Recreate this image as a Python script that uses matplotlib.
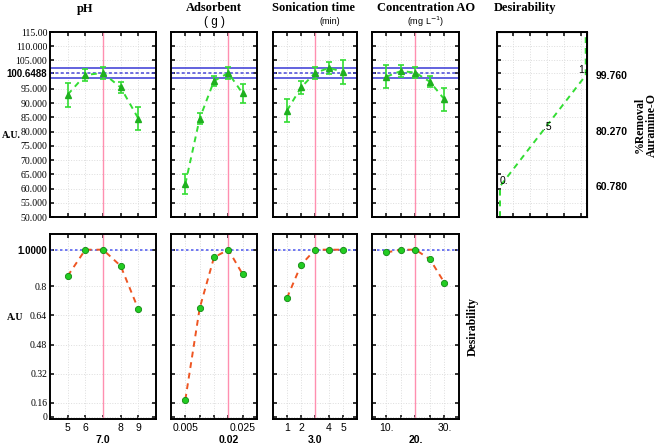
import matplotlib
matplotlib.use('Agg')
import matplotlib.pyplot as plt
import matplotlib.transforms as mtransforms

# factor levels and responses
ph_x = [5, 6, 7, 8, 9]
ph_y = [93.0, 99.9, 100.6, 95.5, 84.6]
ph_err = [4.2, 2.0, 2.0, 2.0, 4.0]
ph_d = [0.856, 1.0, 1.0, 0.911, 0.674]

ads_x = [0.005, 0.01, 0.015, 0.02, 0.025]
ads_y = [61.6, 84.6, 97.8, 100.6, 93.4]
ads_err = [3.4, 2.0, 1.8, 2.0, 3.5]
ads_d = [0.178, 0.679, 0.958, 1.0, 0.865]

son_x = [1, 2, 3, 4, 5]
son_y = [87.4, 95.5, 100.6, 102.4, 101.0]
son_err = [4.0, 2.3, 2.0, 2.2, 4.1]
son_d = [0.736, 0.916, 1.0, 1.0, 1.0]

conc_x = [10, 15, 20, 25, 30]
conc_y = [99.3, 101.3, 100.7, 97.5, 91.3]
conc_err = [4.0, 2.2, 2.0, 2.0, 4.1]
conc_d = [0.985, 1.0, 1.0, 0.947, 0.818]

# optimum settings and predicted response
opt_x = [7.0, 0.02, 3.0, 20.0]
opt_lbl = ['7.0', '0.02', '3.0', '20.']
pred = 100.6488
pred_lo, pred_hi = 99.0, 102.5

# desirability function for the response
des_x = [0, 0, 1, 1]
des_y = [50, 60.78, 99.76, 115]
des_ticks = [60.78, 80.27, 99.76]

titles = ['pH', 'Adsorbent', 'Sonication time', 'Concentration AO']
xlims = [(4, 10), (0, 0.03), (0, 6), (5, 35)]
xlabels = [['5', '6', '', '8', '9'],
           ['0.005', '', '', '', '0.025'],
           ['1', '2', '', '4', '5'],
           ['10.', '', '', '', '30.']]
xs = [ph_x, ads_x, son_x, conc_x]
ys = [ph_y, ads_y, son_y, conc_y]
errs = [ph_err, ads_err, son_err, conc_err]
ds = [ph_d, ads_d, son_d, conc_d]

top_ticks = [50, 55, 60, 65, 70, 75, 80, 85, 90, 95, pred, 105, 110, 115]
top_lbls = ['50.000', '55.000', '60.000', '65.000', '70.000', '75.000', '80.000',
            '85.000', '90.000', '95.000', '100.6488', '105.000', '110.000', '115.00']
bot_ticks = [0.085, 0.16, 0.32, 0.48, 0.64, 0.8, 1.0]
bot_lbls = ['0', '0.16', '0.32', '0.48', '0.64', '0.8', '1.0000']

W, H = 661, 448
fig = plt.figure(figsize=(W / 100, H / 100), dpi=100)

def px_axes(x0, x1, y0, y1):
    return fig.add_axes([x0 / W, 1 - y1 / H, (x1 - x0) / W, (y1 - y0) / H])

def style(ax):
    for s in ax.spines.values():
        s.set_linewidth(1.4)
    ax.tick_params(direction='in', length=3, width=1.1, top=True, right=True,
                   labelsize=7, pad=2)
    ax.grid(True, color='#dddddd', ls=':', lw=0.7)
    ax.set_axisbelow(True)

green = '#1fb01f'
lgreen = '#33dd33'
pink = '#ff8fb0'
blue = '#4848d8'

cols = [(50, 156), (171, 257), (273, 357), (372, 459)]
for i, (x0, x1) in enumerate(cols):
    # response panel
    ax = px_axes(x0, x1, 32, 217)
    style(ax)
    ax.axhline(pred_hi, color=blue, lw=1.2)
    ax.axhline(pred_lo, color=blue, lw=1.2)
    ax.axhline(pred, color=blue, lw=1.1, ls=(0, (2, 1.5)))
    ax.axvline(opt_x[i], color=pink, lw=1.0)
    ax.errorbar(xs[i], ys[i], yerr=errs[i], fmt='^', color=green, ecolor=lgreen,
                ms=5, capsize=2.5, elinewidth=1.2, capthick=1.2, zorder=4)
    ax.plot(xs[i], ys[i], color=lgreen, ls=(0, (3, 2.5)), lw=1.4, zorder=3)
    ax.set_xlim(*xlims[i])
    ax.set_ylim(50, 115)
    ax.set_xticks(xs[i])
    ax.set_xticklabels([])
    ax.set_yticks(top_ticks)
    if i == 0:
        ax.set_yticklabels(top_lbls, family='Liberation Serif', fontsize=7)
        for t in ax.get_yticklabels():
            if t.get_text() == '100.6488':
                t.set_fontweight('bold')
                t.set_family('Liberation Sans')
    else:
        ax.set_yticklabels([])

    # desirability panel
    bx = px_axes(x0, x1, 234, 419)
    style(bx)
    bx.axhline(1.0, color='#5a64f0', lw=1.2, ls=(0, (1.5, 1.5)))
    bx.axvline(opt_x[i], color=pink, lw=1.0)
    bx.plot(xs[i], ds[i], color='#ee5522', ls=(0, (3, 2.5)), lw=1.4, zorder=3)
    bx.plot(xs[i], ds[i], 'o', color='#22cc22', mec='#118811', mew=0.6, ms=4.5, zorder=4)
    bx.set_xlim(*xlims[i])
    bx.set_ylim(0.072, 1.086)
    bx.set_xticks(xs[i])
    bx.set_xticklabels(xlabels[i], family='Liberation Sans', fontsize=7.5)
    bx.tick_params(axis='x', pad=3)
    bx.set_yticks(bot_ticks)
    if i == 0:
        bx.set_yticklabels(bot_lbls, family='Liberation Serif', fontsize=7)
        for t in bx.get_yticklabels():
            if t.get_text() == '1.0000':
                t.set_fontweight('bold')
                t.set_family('Liberation Sans')
    else:
        bx.set_yticklabels([])
    tr = mtransforms.blended_transform_factory(bx.transData, bx.transAxes)
    bx.text(opt_x[i], -0.112, opt_lbl[i], transform=tr, ha='center', va='center',
            fontsize=7.5, fontweight='bold', family='Liberation Sans')

# desirability function panel
dx = px_axes(497, 587, 32, 217)
style(dx)
dx.plot(des_x, des_y, color=lgreen, ls=(0, (3, 2.5)), lw=1.4)
dx.set_xlim(-0.035, 1.015)
dx.set_ylim(50, 115)
dx.set_xticks([0.15, 0.35, 0.55, 0.75, 0.95])
dx.set_xticklabels([])
dx.set_yticks(top_ticks)
dx.set_yticklabels([])
dx.text(des_x[1], des_y[1], '0.', fontsize=7.5, ha='left', va='bottom', family='Liberation Sans')
dx.text(0.5, (des_y[1] + des_y[2]) / 2 + 1.5, '.5', fontsize=7.5, ha='left', va='center',
        family='Liberation Sans')
dx.text(des_x[2] + 0.01, des_y[2], '1.', fontsize=7.5, ha='right', va='bottom',
        family='Liberation Sans')
rx = dx.twinx()
rx.set_ylim(50, 115)
rx.set_yticks(des_ticks)
rx.set_yticklabels(['%.3f' % v for v in des_ticks], fontsize=7.5, fontweight='bold',
                   family='Liberation Sans')
rx.tick_params(length=0, pad=6)

# titles and axis labels
fs = 9
fig.text(85 / W, 1 - 9 / H, titles[0], ha='center', va='center', fontsize=fs,
         fontweight='bold', family='Liberation Serif')
fig.text(214 / W, 1 - 8 / H, titles[1], ha='center', va='center', fontsize=fs,
         fontweight='bold', family='Liberation Serif')
fig.text(214 / W, 1 - 22 / H, '( g )', ha='center', va='center', fontsize=8.5,
         family='Liberation Sans')
fig.text(314 / W, 1 - 8 / H, titles[2], ha='center', va='center', fontsize=fs,
         fontweight='bold', family='Liberation Serif')
fig.text(330 / W, 1 - 22 / H, '(min)', ha='center', va='center', fontsize=6.5,
         family='Liberation Sans')
fig.text(426 / W, 1 - 8 / H, titles[3], ha='center', va='center', fontsize=fs,
         fontweight='bold', family='Liberation Serif')
fig.text(426 / W, 1 - 22 / H, '(mg L$^{-1}$)', ha='center', va='center', fontsize=6.5,
         family='Liberation Sans')
fig.text(525 / W, 1 - 8 / H, 'Desirability', ha='center', va='center', fontsize=fs,
         fontweight='bold', family='Liberation Serif')

fig.text(11 / W, 1 - 135 / H, 'A.U.', ha='center', va='center', fontsize=7,
         fontweight='bold', family='Liberation Serif')
fig.text(15 / W, 1 - 317 / H, 'A.U', ha='center', va='center', fontsize=7,
         fontweight='bold', family='Liberation Serif')
fig.text(646 / W, 1 - 125 / H, '%Removal\nAuramine-O', ha='center', va='center',
         rotation=90, fontsize=8.5, fontweight='bold', family='Liberation Serif',
         linespacing=1.0)
fig.text(473 / W, 1 - 327 / H, 'Desirability', ha='center', va='center',
         rotation=90, fontsize=8.5, fontweight='bold', family='Liberation Serif')

fig.savefig('out.png', dpi=100)
